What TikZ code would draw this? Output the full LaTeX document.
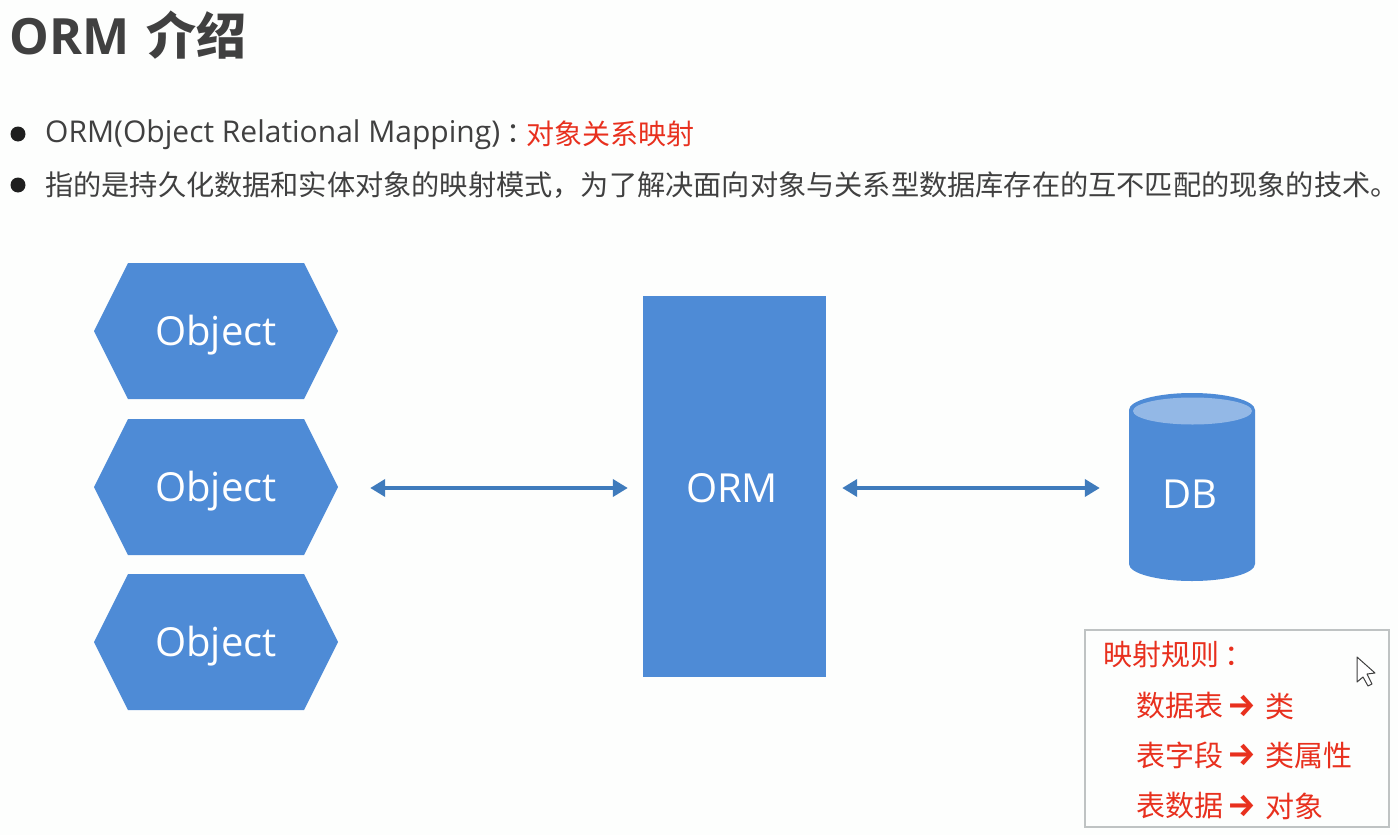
\documentclass[tikz,border=0pt]{standalone}
\usepackage{fontspec}
\setmainfont{Open Sans}
\newfontfamily\cjk{Noto Sans CJK SC}
\newfontfamily\arrowfont{Fira Sans}
\usetikzlibrary{arrows.meta}
\definecolor{bgc}{HTML}{FDFEFD}
\definecolor{blueshape}{HTML}{4E8BD6}
\definecolor{blueend}{HTML}{93B8E6}
\definecolor{arrowc}{HTML}{3F7BBC}
\definecolor{redtxt}{HTML}{E8301E}
\definecolor{darktxt}{HTML}{404040}
\definecolor{boxline}{HTML}{BFC3C3}
\tikzset{
  x=1pt,y=-1pt,
  shapelabel/.style={text=white,font=\fontsize{40}{44}\selectfont,inner sep=0pt},
  hexbody/.style={fill=blueshape,draw=none},
  link/.style={draw=arrowc,line width=4.4pt,{Triangle[length=15pt,width=17pt]}-{Triangle[length=15pt,width=17pt]}},
  bodytxt/.style={anchor=west,inner sep=0pt,text=darktxt,font=\fontsize{30}{34}\selectfont},
  redcjk/.style={anchor=west,inner sep=0pt,text=redtxt,font=\cjk\fontsize{29}{32}\selectfont},
  redarrow/.style={anchor=center,inner sep=0pt,text=redtxt,font=\arrowfont\bfseries\fontsize{32}{36}\selectfont},
  bulletdot/.style={circle,fill=black!88,inner sep=0pt,minimum size=15pt},
}
\newcommand{\hexnode}[3]{%
  \fill[hexbody] (#2-122,#3) -- (#2-88,#3-68) -- (#2+88,#3-68) -- (#2+122,#3) -- (#2+88,#3+68) -- (#2-88,#3+68) -- cycle;
  \node[minimum width=244pt,minimum height=136pt,inner sep=0pt] (#1) at (#2,#3) {};
  \node[shapelabel] (#1l) at (#2,#3+4) {Object};
}
\begin{document}
\begin{tikzpicture}
\useasboundingbox (0,0) rectangle (1398,835);
\fill[bgc] (0,0) rectangle (1398,835);

\node[anchor=west,inner sep=0pt,text=darktxt,font=\bfseries\fontsize{50}{54}\selectfont] (title) at (9,35) {ORM\hspace{4pt} {\cjk\bfseries 介绍}};

\node[bulletdot] (b1) at (18,134) {};
\node[bulletdot] (b2) at (18,185) {};
\node[bodytxt] (t1) at (45,135) {ORM(Object Relational Mapping)};
\node[bodytxt,font=\cjk\fontsize{28}{32}\selectfont] (t1c) at (506,134) {：};
\node[redcjk,font=\cjk\fontsize{28}{32}\selectfont] (t1r) at (526,134) {对象关系映射};
\node[bodytxt,font=\cjk\fontsize{28.2}{32}\selectfont] (t2) at (45,185) {指的是持久化数据和实体对象的映射模式，为了解决面向对象与关系型数据库存在的互不匹配的现象的技术。};

\hexnode{obja}{216}{331}
\hexnode{objb}{216}{487}
\hexnode{objc}{216}{642}

\node[fill=blueshape,minimum width=183pt,minimum height=381pt,inner sep=0pt] (orm) at (734.5,486.5) {};
\node[shapelabel] (orml) at (732,488) {ORM};

\fill[blueshape] (1129,410) arc[start angle=180,end angle=360,x radius=63,y radius=17] -- (1255,564) arc[start angle=0,end angle=180,x radius=63,y radius=17] -- cycle;
\fill[blueend] (1133,411) arc[start angle=180,end angle=-180,x radius=59.5,y radius=13.5];
\node[minimum width=126pt,minimum height=188pt,inner sep=0pt] (db) at (1192,487) {};
\node[shapelabel] (dbl) at (1190,494) {DB};

\draw[link,shorten <=32pt,shorten >=15pt] ([yshift=-1pt]objb.east) -- ([yshift=-1.5pt]orm.west);
\draw[link,shorten <=16pt,shorten >=29pt] ([yshift=-1.5pt]orm.east) -- ([yshift=-1pt]db.west);

\node[draw=boxline,line width=1.2pt,minimum width=304pt,minimum height=197pt,inner sep=0pt] (rules) at (1237,728.5) {};
\node[redcjk] (r0) at (1103,655) {映射规则\hspace{5pt}：};
\node[redcjk] (r1) at (1136,706) {数据表};
\node[redarrow] (r1a) at (1242,706) {→};
\node[redcjk] (r1b) at (1265,706) {类};
\node[redcjk] (r2) at (1136,755) {表字段};
\node[redarrow] (r2a) at (1242,755) {→};
\node[redcjk] (r2b) at (1265,755) {类属性};
\node[redcjk] (r3) at (1136,806) {表数据};
\node[redarrow] (r3a) at (1242,806) {→};
\node[redcjk] (r3b) at (1265,806) {对象};

\draw[draw=darktxt,fill=white,line width=1pt,line join=round] (1357,657) -- (1357,682) -- (1363,677) -- (1368,686) -- (1372,684) -- (1367,674) -- (1375,673) -- cycle;
\end{tikzpicture}
\end{document}
